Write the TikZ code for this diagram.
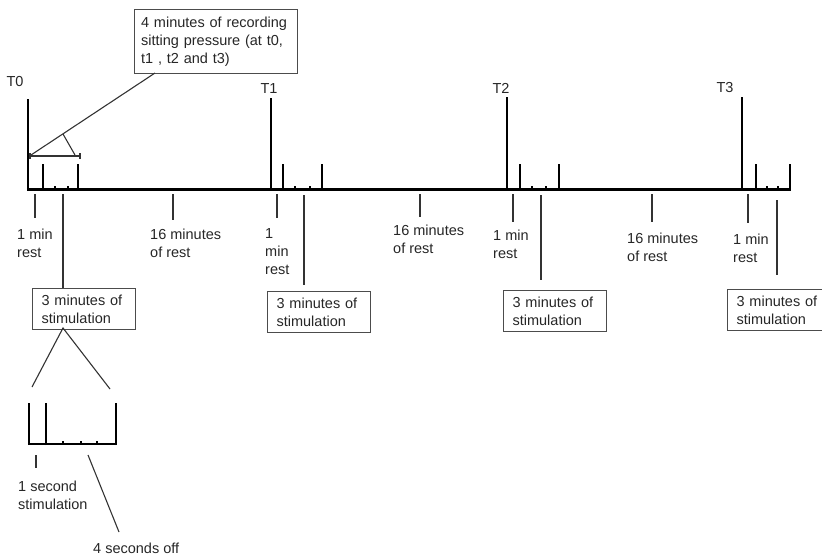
\documentclass[tikz,border=0pt]{standalone}
\usepackage{fontspec}
\setmainfont{Liberation Sans}
\begin{document}
\begin{tikzpicture}[x=1pt,y=-1pt,
  axis/.style={line width=3pt, black},
  tall/.style={line width=2.4pt, black},
  short/.style={line width=2.2pt, black},
  dot/.style={line width=1.4pt, black},
  thin/.style={line width=1.1pt, black!80},
  txt/.style={font=\fontsize{14.5}{18}\selectfont, text=black!85},
  lbl/.style={txt, align=left, anchor=west, inner sep=0pt},
  tlabel/.style={txt, inner sep=0pt},
  stimbox/.style={txt, draw=black!70, line width=1.2pt, align=left, anchor=north west,
    text width=85pt, inner xsep=9pt, inner ysep=0pt, minimum height=41pt},
  recbox/.style={txt, draw=black!70, line width=1.2pt, align=left, anchor=north west,
    text width=150pt, inner xsep=6.5pt, inner ysep=0pt, minimum height=64pt}
]
\useasboundingbox (0,0) rectangle (822,559);

% ---------- main axis ----------
\coordinate (axL) at (26.8,189);
\coordinate (axR) at (791.1,189);
\draw[axis] (axL) -- (axR);

% ---------- tall T markers ----------
\foreach \n/\x/\t in {0/28/99, 1/271/98, 2/507/97, 3/742/97}{
  \coordinate (T\n bot) at (\x,190);
  \coordinate (T\n top) at (\x,\t);
  \draw[tall] (T\n bot) -- (T\n top);
}
\node[tlabel] (lT0) at (15,82) {T0};
\node[tlabel] (lT1) at (269,89) {T1};
\node[tlabel] (lT2) at (501,88) {T2};
\node[tlabel] (lT3) at (725,88) {T3};

% ---------- short ticks (start / end of stimulation) ----------
\foreach \x in {43,78,283,322,520,559,756,790}{
  \draw[short] (\x,190) -- (\x,164);
}
% ---------- tiny dots ----------
\foreach \x in {55,68,295,310,532,546,767,778}{
  \draw[dot] (\x,189) -- (\x,186);
}

% ---------- recording box and bracket ----------
\node[recbox] (rec) at (134,9) {4 minutes of recording\\sitting pressure (at t0,\\t1 , t2 and t3)};
\coordinate (brL) at (30,156);
\coordinate (brR) at (80,156);
\draw[thin] (brL) -- (brR);
\draw[thin] ([yshift=-3pt]brL) -- ([yshift=3pt]brL);
\draw[thin] ([yshift=-3pt]brR) -- ([yshift=3pt]brR);
\coordinate (recfoot) at (155,73);
\coordinate (brLend) at (31,155);
\draw[thin] (recfoot) -- (brLend);
\coordinate (kneeA) at (63,134);
\coordinate (kneeB) at (75,155);
\draw[thin] (kneeA) -- (kneeB);

% ---------- "1 min rest" ----------
\foreach \n/\x/\b in {0/35/218, 1/277/218, 2/513/222, 3/748/223}{
  \coordinate (r\n a) at (\x,194);
  \coordinate (r\n b) at (\x,\b);
  \draw[thin] (r\n a) -- (r\n b);
}
\node[lbl] (rest0) at (17,243) {1 min\\rest};
\node[lbl] (rest1) at (265,252) {1\\min\\rest};
\node[lbl] (rest2) at (493,244) {1 min\\rest};
\node[lbl] (rest3) at (733,248) {1 min\\rest};

% ---------- "16 minutes of rest" ----------
\foreach \n/\x/\b in {0/173/220, 1/420/217, 2/652/222}{
  \coordinate (m\n a) at (\x,194);
  \coordinate (m\n b) at (\x,\b);
  \draw[thin] (m\n a) -- (m\n b);
}
\node[lbl] (long0) at (150,243) {16 minutes\\of rest};
\node[lbl] (long1) at (393,239) {16 minutes\\of rest};
\node[lbl] (long2) at (627,247) {16 minutes\\of rest};

% ---------- stimulation boxes ----------
\node[stimbox] (b0) at (32,288) {3 minutes of\\stimulation};
\node[stimbox] (b1) at (267,291) {3 minutes of\\stimulation};
\node[stimbox] (b2) at (503,290) {3 minutes of\\stimulation};
\node[stimbox] (b3) at (727,289) {3 minutes of\\stimulation};
\coordinate (s0a) at (63,194);  \coordinate (s0b) at (63,288);
\coordinate (s1a) at (304,195); \coordinate (s1b) at (304,285);
\coordinate (s2a) at (541,195); \coordinate (s2b) at (541,280);
\coordinate (s3a) at (777,200); \coordinate (s3b) at (777,275);
\draw[thin] (s0a) -- (s0b);
\draw[thin] (s1a) -- (s1b);
\draw[thin] (s2a) -- (s2b);
\draw[thin] (s3a) -- (s3b);

% ---------- zoom into one stimulation cycle ----------
\coordinate (apex) at (63,328);
\coordinate (zL) at (32,387);
\coordinate (zR) at (110,389);
\draw[thin] (zL) -- (apex) -- (zR);

\draw[axis, line width=2.6pt] (27.8,444) -- (117.2,444);
\foreach \x in {29,46,116}{
  \draw[tall] (\x,445) -- (\x,403);
}
\foreach \x in {63,81,97}{
  \draw[dot] (\x,444) -- (\x,441);
}
\coordinate (os1) at (36,455);
\coordinate (os2) at (36,468);
\draw[thin] (os1) -- (os2);
\node[lbl] (onesec) at (18,495) {1 second\\stimulation};
\coordinate (off1) at (88,455);
\coordinate (off2) at (119,532);
\draw[thin] (off1) -- (off2);
\node[lbl] (fouroff) at (93,548) {4 seconds off};
\end{tikzpicture}
\end{document}
